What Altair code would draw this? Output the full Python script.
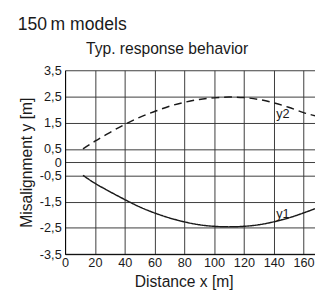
import altair as alt
import pandas as pd

# ---- data ----
x_m = [12, 20, 30, 40, 50, 60, 70, 80, 90, 100, 110, 120, 130, 140, 150, 160, 167.7]
y1 = [-0.50, -0.80, -1.12, -1.42, -1.70, -1.93, -2.12, -2.27, -2.38, -2.44, -2.46, -2.44, -2.38, -2.27, -2.12, -1.93, -1.77]
y2 = [0.51, 0.80, 1.13, 1.44, 1.71, 1.93, 2.13, 2.28, 2.39, 2.45, 2.48, 2.46, 2.39, 2.26, 2.09, 1.89, 1.77]

series_names = ["y1", "y2"]
label_x = [141.7, 141.7]
label_y = [-2.11, 1.70]

x_ticks = [0, 20, 40, 60, 80, 100, 120, 140, 160]
y_ticks = [-3.5, -2.5, -1.5, -0.5, 0, 0.5, 1.5, 2.5, 3.5]
x_domain = [0, 167.7]
y_domain = [-3.5, 3.5]

main_title = "150\u2009m models"
sub_title = "Typ. response behavior"

FONT = "Liberation Sans"
INK = "#1a1a1a"

rows = []
for xv, a, b in zip(x_m, y1, y2):
    rows.append({"x": xv, "y": a, "series": "y1"})
    rows.append({"x": xv, "y": b, "series": "y2"})
df = pd.DataFrame(rows)
labels_df = pd.DataFrame({"x": label_x, "y": label_y, "t": series_names})

xs = alt.Scale(domain=x_domain, nice=False, zero=False)
ys = alt.Scale(domain=y_domain, nice=False, zero=False)

y_label_expr = "datum.value == 0 ? '0' : (datum.value < 0 ? '-' : '') + replace(format(abs(datum.value), '.1f'), '.', ',')"

x_axis = alt.Axis(
    values=x_ticks, title="Distance x [m]", grid=True, ticks=False,
    labelPadding=3, labelFontSize=13, titleFontSize=16,
    titleX=121.5, titleY=33.5, titleBaseline="alphabetic",
    labelFlush=False, labelOverlap=False)
y_axis = alt.Axis(
    values=y_ticks, title="Misalignment y [m]", grid=True, ticks=False,
    labelPadding=4, labelFontSize=13, titleFontSize=16,
    labelExpr=y_label_expr, titleX=-34, titleY=94.2,
    titleBaseline="alphabetic", titleAngle=-90, labelFlush=False,
    labelOverlap=False)

lines = alt.Chart(df).mark_line(color=INK, strokeWidth=1.5, interpolate="natural").encode(
    x=alt.X("x:Q", scale=xs, axis=x_axis),
    y=alt.Y("y:Q", scale=ys, axis=y_axis),
    strokeDash=alt.StrokeDash("series:N", scale=alt.Scale(domain=series_names, range=[[1, 0], [8, 5]]), legend=None),
    detail="series:N",
)

series_text = alt.Chart(labels_df).mark_text(
    align="left", baseline="alphabetic", fontSize=13, font=FONT, color=INK
).encode(x=alt.X("x:Q", scale=xs, axis=x_axis), y=alt.Y("y:Q", scale=ys, axis=y_axis), text="t:N")

title_main = alt.Chart(pd.DataFrame({"t": [main_title]})).mark_text(
    align="left", baseline="alphabetic", fontSize=18, font=FONT, color=INK
).encode(x=alt.value(-48.5), y=alt.value(-41.3), text="t:N")

title_sub = alt.Chart(pd.DataFrame({"t": [sub_title]})).mark_text(
    align="center", baseline="alphabetic", fontSize=16, font=FONT, color=INK
).encode(x=alt.value(104.5), y=alt.value(-16.6), text="t:N")

chart = alt.layer(lines, series_text, title_main, title_sub).properties(
    width=256, height=188.4,
    autosize=alt.AutoSizeParams(type="none"),
    padding={"left": 58.5, "top": 60.3, "right": 0, "bottom": 38},
).configure_view(stroke=None).configure_axis(
    domainColor="#000", domainWidth=1, gridColor="#3a3a3a", gridWidth=1, gridOpacity=1,
    labelFont=FONT, titleFont=FONT, labelColor=INK, titleColor=INK,
    titleFontWeight="normal",
)

chart.save("out.html", embed_options={"renderer": "svg", "actions": False})
